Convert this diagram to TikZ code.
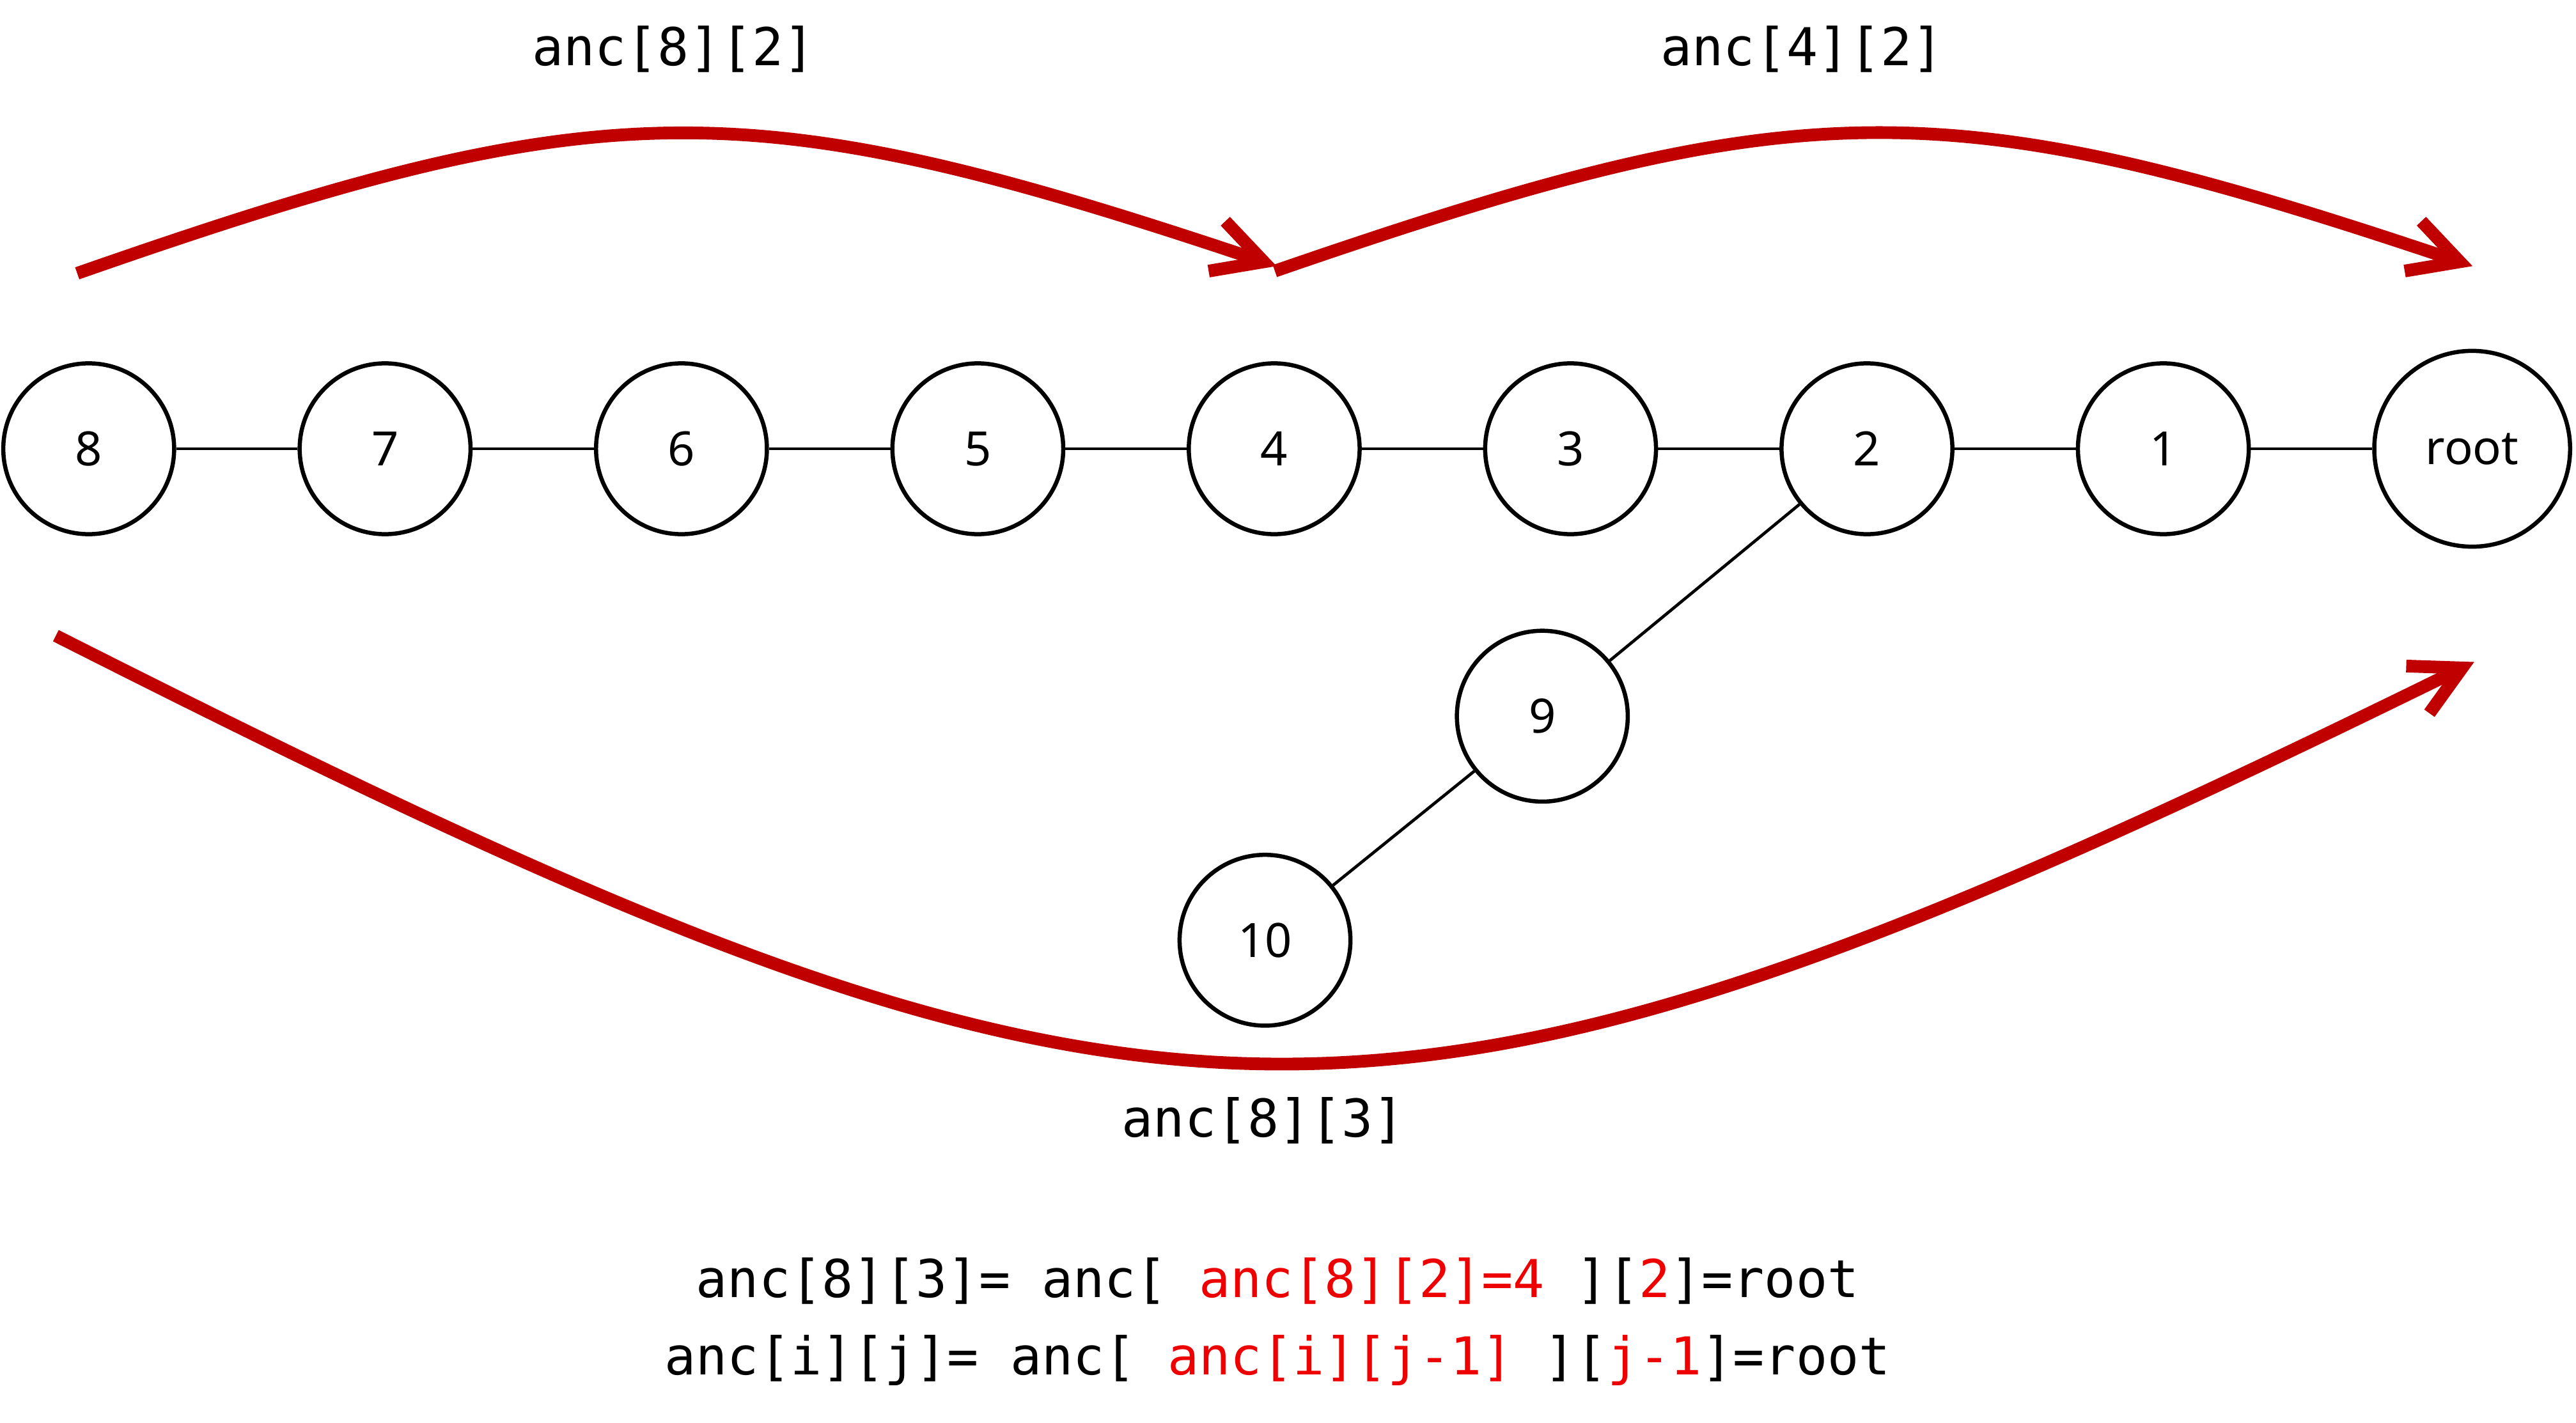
\documentclass[tikz,border=0pt]{standalone}
\usepackage{fontspec}
\setmainfont{Noto Sans}
\setmonofont{DejaVu Sans Mono}
\usepackage{xcolor}
\usepackage{tikz}
\usetikzlibrary{arrows.meta,positioning}
\definecolor{ancred}{RGB}{192,0,0}
\definecolor{ancmark}{RGB}{238,0,0}
\tikzset{
  ancnode/.style={
    circle,
    draw=black,
    line width=1.8pt,
    minimum size=2.6cm,
    inner sep=0pt,
    font=\fontsize{20.5}{24}\selectfont
  },
  ancroot/.style={ancnode,minimum size=2.98cm},
  ancedge/.style={line width=1.3pt,black},
  ancjump/.style={-{Straight Barb[length=7.5mm,width=8mm]},line width=5.5pt,ancred},
  anclabel/.style={font=\ttfamily\fontsize{22.6}{26}\selectfont,inner sep=0pt}
}

\begin{document}
\begin{tikzpicture}[x=1cm,y=1cm]
  \useasboundingbox (0,0) rectangle (39.2,-21.65);

  % the chain 8 -> root
  \node[ancnode] (n8) at (1.35,-6.83) {8};
  \node[ancnode] (n7) at (5.86,-6.83) {7};
  \node[ancnode] (n6) at (10.37,-6.83) {6};
  \node[ancnode] (n5) at (14.88,-6.83) {5};
  \node[ancnode] (n4) at (19.39,-6.83) {4};
  \node[ancnode] (n3) at (23.90,-6.83) {3};
  \node[ancnode] (n2) at (28.41,-6.83) {2};
  \node[ancnode] (n1) at (32.92,-6.83) {1};
  \node[ancroot] (root) at (37.62,-6.83) {root};

  % side branch
  \node[ancnode] (n9) at (23.47,-10.90) {9};
  \node[ancnode] (n10) at (19.25,-14.31) {10};

  \foreach \a/\b in {n8/n7,n7/n6,n6/n5,n5/n4,n4/n3,n3/n2,n2/n1,n1/root,n2/n9,n9/n10}{
    \draw[ancedge] (\a) -- (\b);
  }

  % jumps
  \coordinate (j1s) at (1.175,-4.16);
  \coordinate (j1e) at (19.425,-4.05);
  \coordinate (j2s) at (19.4,-4.125);
  \coordinate (j2e) at (37.625,-4.05);
  \coordinate (j3s) at (0.85,-9.675);
  \coordinate (j3e) at (37.65,-10.075);

  \draw[ancjump] (j1s) .. controls +(8.05,2.815) and +(-8.075,2.705) .. (j1e);
  \draw[ancjump] (j2s) .. controls +(8.05,2.78) and +(-8.05,2.705) .. (j2e);
  \draw[ancjump] (j3s) .. controls +(16.8,-8.5) and +(-16.9,-8.3) .. (j3e);

  \node[anclabel] (lab82) at (10.25,-0.75) {anc[8][2]};
  \node[anclabel] (lab42) at (27.425,-0.75) {anc[4][2]};
  \node[anclabel] (lab83) at (19.225,-17.05) {anc[8][3]};

  % recurrence
  \node[anclabel] (form1) at (19.44,-19.5)
    {anc[8][3]= anc[ \textcolor{ancmark}{anc[8][2]=4} ][\textcolor{ancmark}{2}]=root};
  \node[anclabel] (form2) at (19.44,-20.7)
    {anc[i][j]= anc[ \textcolor{ancmark}{anc[i][j-1]} ][\textcolor{ancmark}{j-1}]=root};
\end{tikzpicture}
\end{document}
